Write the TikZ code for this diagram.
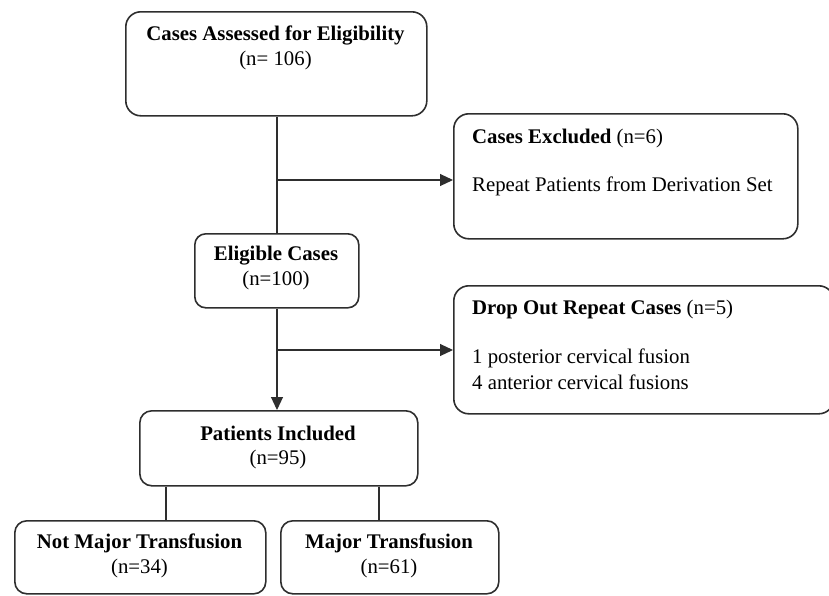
\documentclass[tikz,border=0pt]{standalone}
\usepackage{fontspec}
\setmainfont{Liberation Serif}
\usetikzlibrary{arrows.meta}
\definecolor{edge}{HTML}{2E2E2E}
\tikzset{
  box/.style={draw=edge, line width=1.6pt, rounded corners=#1, inner sep=0pt},
  box/.default=15pt,
  lbl/.style={inner sep=0pt, font=\fontsize{20.8}{24.5}\selectfont, text=black},
  conn/.style={draw=edge, line width=1.1pt},
  arr/.style={conn, -{Triangle[length=13pt,width=12pt]}}
}
\begin{document}
\begin{tikzpicture}[x=1pt,y=-1pt]
\useasboundingbox (0,0) rectangle (829,595);
% boxes
\node[box, minimum width=301pt, minimum height=104pt, anchor=north west] (assess) at (125,11) {};
\node[box, minimum width=344pt, minimum height=125pt, anchor=north west] (excl) at (453,113) {};
\node[box=11pt, minimum width=164pt, minimum height=74pt, anchor=north west] (elig) at (194,233) {};
\node[box, minimum width=380pt, minimum height=128pt, anchor=north west] (drop) at (453,285) {};
\node[box=12pt, minimum width=278pt, minimum height=75pt, anchor=north west] (incl) at (139,410) {};
\node[box=12pt, minimum width=251pt, minimum height=73pt, anchor=north west] (notmaj) at (14,520) {};
\node[box=12pt, minimum width=218pt, minimum height=73pt, anchor=north west] (maj) at (280,520) {};
% texts
\node[lbl] (t1) at (275.5,35) {\textbf{Cases Assessed for Eligibility}};
\node[lbl] (t2) at (275.5,60) {(n= 106)};
\node[lbl, anchor=west] (t3) at (472,138) {\textbf{Cases Excluded} (n=6)};
\node[lbl, anchor=west] (t4) at (472,186) {Repeat Patients from Derivation Set};
\node[lbl] (t5) at (276,256) {\textbf{Eligible Cases}};
\node[lbl] (t6) at (276,280) {(n=100)};
\node[lbl, anchor=west] (t7) at (472,309) {\textbf{Drop Out Repeat Cases} (n=5)};
\node[lbl, anchor=west] (t8) at (472,358) {1 posterior cervical fusion};
\node[lbl, anchor=west] (t9) at (472,382) {4 anterior cervical fusions};
\node[lbl] (t10) at (278,433) {\textbf{Patients Included}};
\node[lbl] (t11) at (278,459) {(n=95)};
\node[lbl] (t12) at (139.5,543) {\textbf{Not Major Transfusion}};
\node[lbl] (t13) at (139.5,568) {(n=34)};
\node[lbl] (t14) at (389,543) {\textbf{Major Transfusion}};
\node[lbl] (t15) at (389,568) {(n=61)};
% connectors
\coordinate (b1) at (277,180);
\coordinate (b2) at (277,350);
\draw[conn] (assess.south -| b1) -- (elig.north -| b1);
\draw[arr] (b1) -- (b1 -| excl.west);
\draw[arr] (elig.south -| b1) -- (incl.north -| b1);
\draw[arr] (b2) -- (b2 -| drop.west);
\coordinate (c1) at (166,0);
\coordinate (c2) at (379,0);
\draw[conn] (incl.south -| c1) -- (notmaj.north -| c1);
\draw[conn] (incl.south -| c2) -- (maj.north -| c2);
\end{tikzpicture}
\end{document}
